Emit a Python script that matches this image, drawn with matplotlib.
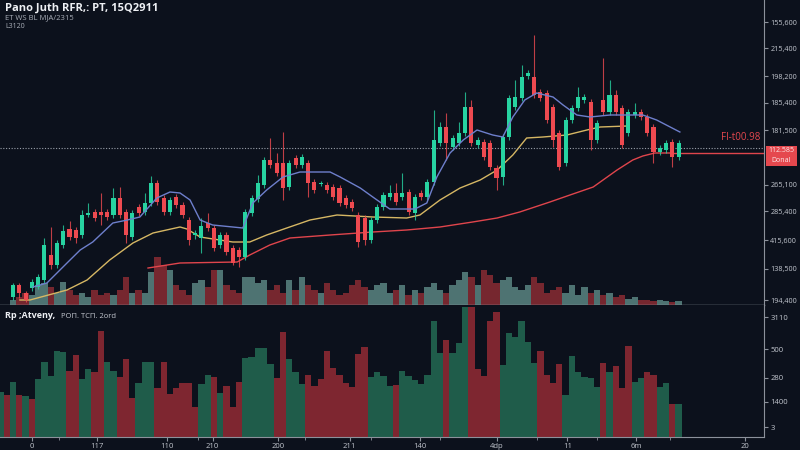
import matplotlib
matplotlib.use("Agg")
import matplotlib.pyplot as plt
from matplotlib.patches import Rectangle

plt.rcParams['font.family'] = ['Open Sans', 'DejaVu Sans']

# candle prices (arbitrary units)
opens = [8, 20, 12, 17, 18, 25, 50, 40, 60, 76, 75, 70, 90, 93, 93, 93, 90, 107, 93, 68,
         98, 93, 102, 122, 107, 93, 108, 100, 85, 70, 67, 82, 77, 60, 70, 57, 55, 48, 92, 106,
         120, 145, 142, 142, 118, 147, 140, 142, 123, 121, 120, 118, 117, 107, 103, 90, 87, 65, 85, 98,
         108, 112, 108, 113, 92, 112, 108, 123, 162, 178, 158, 162, 172, 198, 160, 163, 162, 137, 128, 168,
         198, 207, 229, 228, 213, 212, 198, 172, 142, 185, 197, 205, 203, 165, 205, 193, 210, 197, 172, 190,
         193, 188, 178, 153, 155, 163, 148]
closes = [20, 12, 5, 23, 28, 60, 40, 62, 74, 68, 67, 90, 92, 87, 90, 88, 107, 90, 70, 92,
          92, 102, 122, 103, 93, 105, 100, 90, 65, 72, 79, 77, 57, 70, 53, 42, 48, 93, 107, 122,
          145, 140, 132, 117, 142, 140, 148, 122, 115, 122, 115, 108, 102, 100, 97, 63, 65, 85, 98, 110,
          112, 103, 112, 93, 108, 108, 123, 165, 178, 162, 167, 172, 198, 162, 165, 148, 138, 127, 168, 207,
          208, 228, 232, 210, 207, 185, 165, 138, 185, 197, 208, 208, 165, 182, 193, 210, 193, 160, 193, 193,
          188, 172, 153, 157, 162, 148, 162]
highs = [22, 22, 14, 26, 31, 67, 78, 65, 80, 84, 78, 95, 102, 96, 112, 96, 117, 118, 96, 95,
         101, 112, 129, 125, 110, 108, 111, 103, 88, 75, 87, 92, 80, 73, 73, 60, 58, 96, 110, 130,
         148, 167, 152, 173, 145, 150, 151, 145, 126, 124, 123, 121, 120, 110, 106, 93, 90, 88, 101, 113,
         120, 122, 132, 116, 111, 115, 126, 195, 183, 192, 170, 183, 213, 205, 168, 166, 165, 140, 171, 210,
         225, 240, 235, 270, 216, 215, 201, 175, 188, 200, 218, 211, 206, 185, 247, 225, 215, 200, 196, 202,
         196, 191, 181, 160, 165, 166, 165]
lows = [5, 7, 3, 14, 16, 22, 36, 37, 57, 65, 62, 67, 88, 84, 80, 85, 87, 87, 62, 65,
        89, 90, 99, 100, 90, 90, 97, 87, 60, 66, 52, 74, 54, 57, 50, 40, 38, 45, 89, 103,
        117, 137, 129, 105, 115, 137, 137, 108, 112, 119, 112, 105, 99, 97, 94, 58, 60, 62, 82, 95,
        105, 100, 105, 90, 85, 105, 105, 120, 159, 145, 155, 159, 169, 159, 157, 145, 135, 115, 120, 165,
        195, 204, 226, 207, 204, 182, 158, 135, 139, 182, 194, 202, 155, 162, 190, 190, 190, 157, 169, 187,
        185, 169, 142, 150, 152, 138, 145]
# volume drawn under the candles in the price panel
vol_overlay = [5, 8, 12, 10, 20, 22, 18, 12, 23, 15, 10, 12, 8, 15, 10, 12, 10, 15, 28, 12,
               15, 12, 33, 48, 40, 35, 20, 15, 10, 22, 25, 18, 35, 35, 20, 15, 12, 28, 28, 22,
               25, 15, 20, 12, 25, 15, 28, 20, 15, 12, 22, 15, 10, 12, 20, 25, 18, 15, 20, 22,
               12, 15, 20, 10, 15, 12, 18, 22, 15, 12, 20, 25, 33, 28, 20, 35, 30, 22, 25, 28,
               18, 15, 20, 28, 22, 12, 15, 18, 12, 20, 10, 18, 12, 15, 10, 12, 8, 10, 6, 8,
               5, 5, 4, 5, 4, 3, 4]

# lower panel volume
volume = [45, 42, 55, 42, 41, 38, 58, 75, 61, 86, 85, 66, 82, 58, 68, 65, 106, 75, 66, 60,
          78, 39, 54, 75, 75, 49, 75, 43, 49, 54, 54, 30, 53, 62, 60, 44, 51, 30, 55, 79,
          80, 89, 89, 73, 59, 105, 78, 65, 53, 62, 51, 58, 86, 69, 62, 54, 50, 83, 90, 60,
          65, 61, 51, 52, 66, 61, 57, 53, 62, 116, 84, 97, 84, 94, 130, 130, 68, 61, 116, 125,
          72, 104, 100, 116, 95, 74, 86, 62, 54, 73, 42, 81, 65, 60, 59, 50, 74, 65, 71, 49,
          91, 55, 59, 65, 62, 50, 54, 33, 33]
volume_dir = ("grgrgrgggg" "grrggrrggr" "rrgggrrrrr" "rrggrgrrrg" "ggggrrgggr"
              "rrrrrrrrrg" "gggrgggggg" "grgggrrrrr" "ggggggrrrr" "ggggggrgrr" "rggrrggrg")

# average lines, points (candle index, price)
blue_x = [3.2, 5.4, 8.6, 10.7, 12.7, 15.9, 18.2, 20.2, 22.9, 25.0, 26.6, 28.2, 29.8, 31.8, 35.0,
          36.6, 38.2, 40.4, 43.0, 45.7, 50.5, 52.1, 55.3, 57.3, 60.0, 64.0, 65.9, 67.5, 69.6, 71.7,
          73.9, 76.4, 78.0, 79.6, 81.5, 83.4, 86.0, 87.6, 89.8, 91.9, 95.1, 98.2, 100.3, 102.5, 106.2]
blue_y = [18, 22, 42, 55, 63, 82, 85, 88, 107, 113, 112, 105, 85, 80, 78,
          77, 102, 115, 128, 133, 133, 128, 117, 108, 96, 96, 102, 128, 152, 165,
          175, 170, 168, 188, 205, 212, 208, 200, 190, 188, 190, 190, 190, 185, 173]
yellow_x = [1.1, 2.7, 8.6, 11.8, 15.4, 19.1, 22.3, 26.6, 27.7, 29.8, 35.0, 37.7, 40.4, 43.6, 47.3,
            51.6, 57.3, 62.7, 64.8, 68.0, 71.2, 74.4, 77.1, 79.6, 81.8, 84.4, 88.2, 91.4, 93.5, 97.8]
yellow_y = [5, 5, 15, 25, 45, 62, 72, 78, 76, 68, 63, 63, 70, 77, 85,
            90, 88, 87, 90, 105, 117, 125, 135, 150, 167, 168, 170, 175, 178, 179]
red_x = [21.5, 26.6, 35.7, 37.7, 40.9, 44.1, 50.5, 57.3, 62.7, 68.0, 73.2, 77.1, 80.7, 85.5,
         88.7, 92.4, 96.2, 98.7, 100.3, 102.2, 105.1]
red_y = [37, 42, 43, 50, 60, 67, 70, 73, 75, 78, 83, 87, 93, 103,
         110, 118, 135, 145, 149, 152, 152]

last_price = 152
ref_price = 157

price_ticks = [283, 257, 229, 202, 175, 120, 94, 65, 36, 5]
price_labels = ['155,600', '215,400', '198,200', '185,400', '181,500',
                '265,100', '285,400', '415,600', '138,500', '194,400']
vol_ticks = [120, 88, 59, 35, 10]
vol_labels = ['3110', '500', '280', '1400', '3']
x_ticks = [3.0, 13.4, 24.5, 31.8, 42.2, 53.6, 64.8, 77.0, 88.3, 99.2, 116.5]
x_labels = ['0', '117', '110', '210', '200', '211', '140', '4dp', '11', '6m', '20']
x_minor = [7.3, 29.5, 46.5, 57.0, 68.0, 83.4, 93.0, 104.6]

bg = '#0c111c'
up = '#27d3a1'
down = '#ee4a50'
axis_col = '#8c919b'
label_col = '#c3c7cf'

fig = plt.figure(figsize=(8, 4.5), dpi=100, facecolor=bg)
W, H = 800.0, 450.0
ax = fig.add_axes([0, 1 - 305 / H, 764 / W, 305 / H])
axv = fig.add_axes([0, 1 - 437 / H, 764 / W, 132 / H])

xmin, xmax = -2.07, 119.6

# price panel
ax.set_facecolor(bg)
for i in range(len(opens)):
    col = up if closes[i] >= opens[i] else down
    vcol = '#5f8c88' if closes[i] >= opens[i] else '#922d34'
    ax.bar(i, vol_overlay[i], width=1.0, bottom=0, color=vcol, alpha=0.8, zorder=1)
    ax.vlines(i, lows[i], highs[i], color=col, lw=0.8, alpha=0.8, zorder=3)
    body = max(abs(closes[i] - opens[i]), 1.5)
    ax.bar(i, body, width=0.65, bottom=min(opens[i], closes[i]), color=col, zorder=4)

ax.plot(yellow_x, yellow_y, color='#d6b764', lw=1.0, zorder=2)
ax.plot(red_x, red_y, color='#e0454c', lw=1.0, zorder=2)
ax.plot(blue_x, blue_y, color='#6e7fcc', lw=1.0, zorder=5)
ax.axhline(ref_price, color='#9aa0aa', lw=0.8, ls=(0, (1, 1.5)), zorder=2)
ax.hlines(last_price, red_x[-1], xmax, color='#e0454c', lw=1.0, zorder=2)

ax.set_xlim(xmin, xmax)
ax.set_ylim(0, 305)
ax.yaxis.tick_right()
ax.set_yticks(price_ticks)
ax.set_yticklabels(price_labels)
ax.set_xticks([])
ax.tick_params(axis='y', colors=axis_col, labelcolor=label_col, labelsize=5.2, length=3, pad=1.5)
for s in ['top', 'left']:
    ax.spines[s].set_visible(False)
ax.spines['right'].set_color(axis_col)
ax.spines['bottom'].set_color('#9aa0aa')
ax.spines['bottom'].set_linewidth(1.0)

# volume panel
axv.set_facecolor(bg)
for j, v in enumerate(volume):
    c = '#1f5c4a' if volume_dir[j] == 'g' else '#7e2630'
    axv.bar(j - 2, v, width=1.0, color=c)
axv.set_xlim(xmin, xmax)
axv.set_ylim(0, 132)
axv.yaxis.tick_right()
axv.set_yticks(vol_ticks)
axv.set_yticklabels(vol_labels)
axv.set_xticks(x_ticks)
axv.set_xticklabels(x_labels)
axv.set_xticks(x_minor, minor=True)
axv.tick_params(axis='both', colors=axis_col, labelcolor=label_col, labelsize=5.5, length=3, pad=1.5)
axv.tick_params(axis='x', which='minor', colors=axis_col, length=2)
for s in ['top', 'left']:
    axv.spines[s].set_visible(False)
axv.spines['right'].set_color(axis_col)
axv.spines['bottom'].set_color(axis_col)

# header texts
fig.text(5 / W, 1 - 8 / H, 'Pano Juth RFR,: PT, 15Q2911', color='#eef0f4', fontsize=8,
         fontweight='bold', va='center', ha='left')
fig.text(5 / W, 1 - 18 / H, 'ET WS BL MJA/2315', color='#a9aeb8', fontsize=5.5, va='center', ha='left')
fig.text(5 / W, 1 - 27 / H, 'L3120', color='#a9aeb8', fontsize=5, va='center', ha='left')
fig.text(5 / W, 1 - 316 / H, 'Rp ;Atveny,', color='#eef0f4', fontsize=6.5, fontweight='bold',
         va='center', ha='left')
fig.text(61 / W, 1 - 316 / H, 'POΠ. TCΠ. 2ord', color='#c3c7cf', fontsize=5.5, va='center', ha='left')

# price labels on the right
fig.text(760 / W, 1 - 138 / H, 'Fl-t00.98', color='#e5484e', fontsize=7, va='center', ha='right')
fig.patches.append(Rectangle((766 / W, 1 - 166 / H), 31 / W, 20 / H, transform=fig.transFigure,
                             facecolor='#e5484e', edgecolor='none'))
fig.text(781 / W, 1 - 151 / H, '112.585', color='#fbe9ea', fontsize=5, va='center', ha='center')
fig.text(781 / W, 1 - 161 / H, 'Donal', color='#fbe9ea', fontsize=5, va='center', ha='center')

fig.savefig('out.png', dpi=100, facecolor=bg)
